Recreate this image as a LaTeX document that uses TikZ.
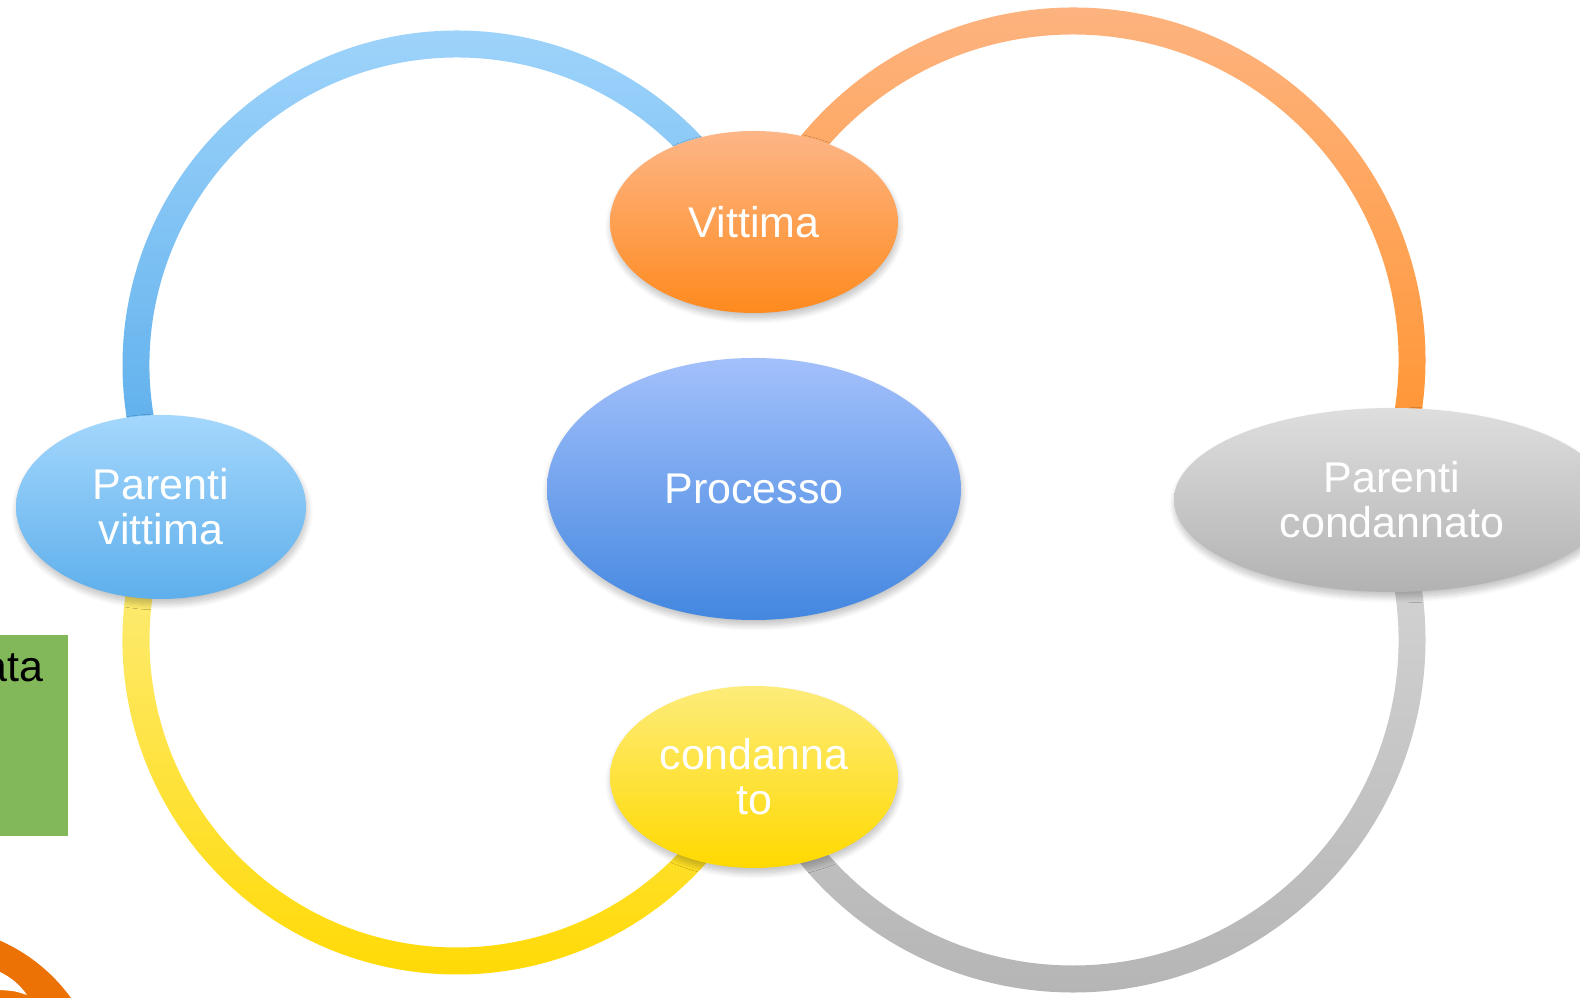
\documentclass[tikz,border=0pt]{standalone}
\usepackage{fontspec}
\setsansfont{Liberation Sans}
\usetikzlibrary{shapes.geometric,positioning,shadows.blur}

\definecolor{vitTop}{RGB}{253,182,135}
\definecolor{vitBot}{RGB}{255,138,30}
\definecolor{proTop}{RGB}{163,192,251}
\definecolor{proBot}{RGB}{67,135,224}
\definecolor{parTop}{RGB}{164,215,252}
\definecolor{parBot}{RGB}{94,175,236}
\definecolor{conTop}{RGB}{253,236,122}
\definecolor{conBot}{RGB}{255,217,0}
\definecolor{greyTop}{RGB}{222,222,222}
\definecolor{greyBot}{RGB}{178,178,178}
\definecolor{boxgreen}{RGB}{130,184,90}
\definecolor{logoorange}{RGB}{236,114,6}

\begin{document}
\begin{tikzpicture}[x=1pt,y=1pt,
		main node/.style={ellipse,inner sep=0pt,align=center,text=white,
			font=\sffamily\fontsize{43}{45}\selectfont,
			blur shadow={shadow xshift=1pt,shadow yshift=-5pt,shadow blur steps=10,shadow blur radius=6pt,shadow opacity=25}},
		small node/.style={main node,minimum width=288,minimum height=182},
		blue ring/.style={top color=parTop,bottom color=parBot},
		orange ring/.style={top color=vitTop,bottom color=vitBot!90!white},
		yellow ring/.style={top color=conTop,bottom color=conBot},
		grey ring/.style={top color=greyTop!95!black,bottom color=greyBot}]
		\useasboundingbox (0,0) rectangle (1580,998);

		% rings
		\shade[blue ring] (457,633) ++(40:334.5) arc[start angle=40,end angle=195,radius=334.5]
			-- ++(195:-27) arc[start angle=195,end angle=40,radius=307.5] -- cycle;
		\shade[yellow ring] (457,358) ++(165:334.5) arc[start angle=165,end angle=320,radius=334.5]
			-- ++(320:-27) arc[start angle=320,end angle=165,radius=307.5] -- cycle;
		\shade[orange ring] (1073,638) ++(142:352.5) arc[start angle=142,end angle=-12,radius=352.5]
			-- ++(-12:-27) arc[start angle=-12,end angle=142,radius=325.5] -- cycle;
		\shade[grey ring] (1073,358) ++(-142:352.5) arc[start angle=-142,end angle=12,radius=352.5]
			-- ++(12:-27) arc[start angle=12,end angle=-142,radius=325.5] -- cycle;

		\node[main node,minimum width=414,minimum height=262,top color=proTop,bottom color=proBot] (1) at (754,509) {Processo};
		\node[small node,top color=vitTop,bottom color=vitBot] (2) [above of=1,node distance=267] {Vittima};
		\node[small node,top color=conTop,bottom color=conBot] (3) [below of=1,node distance=288] {condanna\\to};
		\node[small node,minimum width=290,minimum height=184,top color=parTop,bottom color=parBot] (4) at (161,491) {Parenti\\vittima};
		\node[main node,minimum width=436,minimum height=184,top color=greyTop,bottom color=greyBot] (5) at (1392,498) {Parenti\\condannato};

		% left side leftovers
		\fill[boxgreen] (0,162) rectangle (68,363);
		\node[anchor=base west,inner sep=0pt,font=\sffamily\fontsize{43}{45}\selectfont] (6) at (-17,316) {ata};
		\fill[logoorange] (-70,-102) circle[radius=174];
		\fill[white] (0,26) .. controls (12,20) and (20,13) .. (27,3) .. controls (15,7) .. (0,8) -- cycle;
\end{tikzpicture}
\end{document}
